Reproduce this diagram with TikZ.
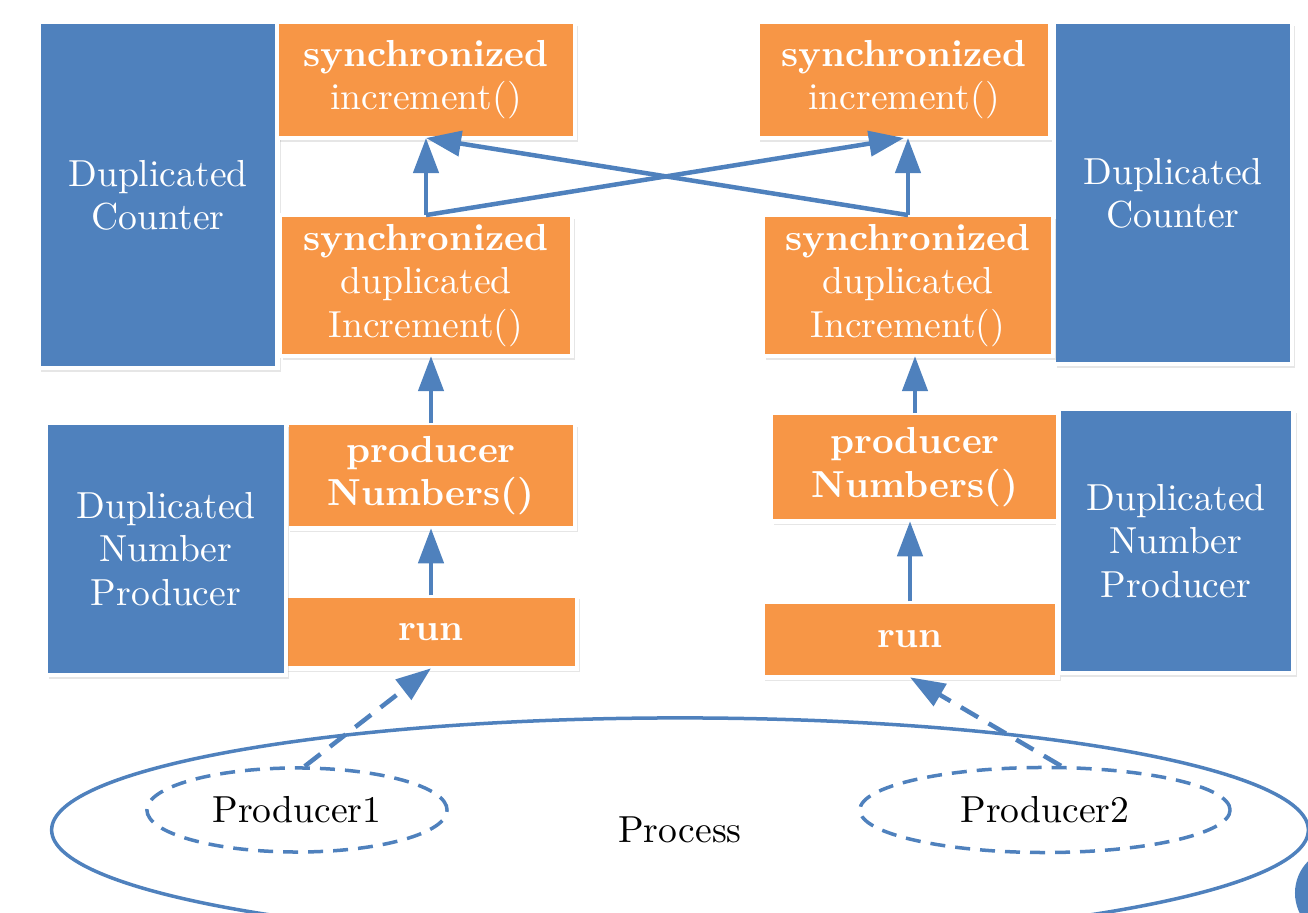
\documentclass[tikz,border=0pt]{standalone}
\usepackage{tikz}
\usetikzlibrary{positioning, shapes.geometric, arrows.meta, shadows}
\definecolor{boxorange}{HTML}{F79646}
\definecolor{boxblue}{HTML}{4F81BD}
\tikzset{
    >={Triangle[length=0.35cm, width=0.25cm]}, % big filled arrow heads
    txt/.style={font=\fontsize{10.7pt}{12.3pt}\selectfont}, % text size for the whole picture
    box/.style={txt, draw=white, line width=0.045cm, text=white, align=center, inner sep=0pt, outer sep=0pt,
        drop shadow={shadow xshift=0.03cm, shadow yshift=-0.04cm, opacity=0.2}}, % every box
    method/.style={box, fill=boxorange}, % orange method boxes
    classbox/.style={box, fill=boxblue}, % blue class boxes
    thread/.style={txt, ellipse, draw=boxblue, line width=0.035cm, dash pattern=on 0.15cm off 0.1cm, inner sep=0pt}, % dashed threads
    call/.style={->, draw=boxblue, line width=0.045cm}, % method calls
    startcall/.style={call, dash pattern=on 0.2cm off 0.12cm}, % a thread starting run
}

\begin{document}
\begin{tikzpicture}[x=0.01cm, y=-0.01cm]
    \path[use as bounding box] (0,0) rectangle (1308,913);
    \clip (0,0) rectangle (1308,913);
    % the process with its two threads
    \node[txt, ellipse, draw=boxblue, line width=0.035cm, minimum width=12.56cm, minimum height=2.24cm] (proc) at (680,830) {Process};
    \node[thread, minimum width=3cm, minimum height=0.84cm] (p1) at (297,810) {Producer1};
    \node[thread, minimum width=3.7cm, minimum height=0.85cm] (p2) at (1045,810) {Producer2};
    \node[circle, fill=boxblue, minimum size=0.9cm] (dot) at (1340,893) {};
    % left side
    \node[classbox, minimum width=2.39cm, minimum height=3.46cm] (cntL) at (158,195) {Duplicated\\Counter};
    \node[method, minimum width=2.98cm, minimum height=1.16cm] (incL) at (426,80) {\textbf{synchronized}\\increment()};
    \node[method, minimum width=2.92cm, minimum height=1.41cm, below=0.77cm of incL] (dupL) {\textbf{synchronized}\\duplicated\\Increment()};
    \node[method, minimum width=2.88cm, minimum height=1.05cm, below=0.67cm of dupL, xshift=0.05cm] (prodL) {\textbf{producer}\\\textbf{Numbers()}};
    \node[method, minimum width=2.92cm, minimum height=0.73cm, below=0.67cm of prodL] (runL) {\textbf{run}};
    \node[classbox, minimum width=2.4cm, minimum height=2.52cm] (genL) at (166,549) {Duplicated\\Number\\Producer};
    % right side
    \node[method, minimum width=2.93cm, minimum height=1.16cm] (incR) at (904,80) {\textbf{synchronized}\\increment()};
    \node[classbox, minimum width=2.38cm, minimum height=3.42cm] (cntR) at (1173,193) {Duplicated\\Counter};
    \node[method, minimum width=2.9cm, minimum height=1.41cm, below=0.77cm of incR, xshift=0.04cm] (dupR) {\textbf{synchronized}\\duplicated\\Increment()};
    \node[method, minimum width=2.88cm, minimum height=1.08cm, below=0.57cm of dupR, xshift=0.07cm] (prodR) {\textbf{producer}\\\textbf{Numbers()}};
    \node[method, minimum width=2.95cm, minimum height=0.76cm, below=0.8cm of prodR, xshift=-0.05cm] (runR) {\textbf{run}};
    \node[classbox, minimum width=2.35cm, minimum height=2.64cm] (genR) at (1176,541) {Duplicated\\Number\\Producer};
    % calls
    \draw[call] (dupL.north) -- (dupL.north |- incL.south);
    \draw[call] (dupL.north) -- (incR.south);
    \draw[call] (dupR.north) -- (dupR.north |- incR.south);
    \draw[call] (dupR.north) -- (incL.south);
    \draw[call] (prodL.north) -- (prodL.north |- dupL.south);
    \draw[call] (runL.north) -- (runL.north |- prodL.south);
    \draw[call] (prodR.north) -- (prodR.north |- dupR.south);
    \draw[call] (runR.north) -- (runR.north |- prodR.south);
    \draw[startcall] (p1.80) -- (runL.south);
    \draw[startcall] (p2.70) -- (runR.south);
\end{tikzpicture}
\end{document}
